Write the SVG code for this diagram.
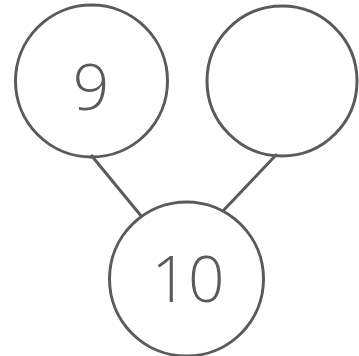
<svg xmlns="http://www.w3.org/2000/svg" width="359" height="356" viewBox="0 0 359 356">
<style>
.c{fill:none;stroke:#5a5a5a;stroke-width:3}
.l{stroke:#5a5a5a;stroke-width:3;fill:none}
.t{font-family:"Open Sans","DejaVu Sans",sans-serif;font-size:64px;font-weight:300;fill:#5a5a5a;text-anchor:middle}
</style>
<rect width="359" height="356" fill="#fff"/>
<g id="connectors">
<line class="l" x1="91" y1="155" x2="142" y2="217"/>
<line class="l" x1="277" y1="154" x2="222" y2="212"/>
</g>
<g id="n9">
<circle class="c" cx="91.5" cy="81" r="76"/>
<text class="t" x="91" y="110">9</text>
</g>
<g id="nblank">
<circle class="c" cx="282" cy="81" r="75"/>
</g>
<g id="n10">
<circle class="c" cx="186.5" cy="279" r="77"/>
<text class="t" x="188" y="302">10</text>
</g>
</svg>
